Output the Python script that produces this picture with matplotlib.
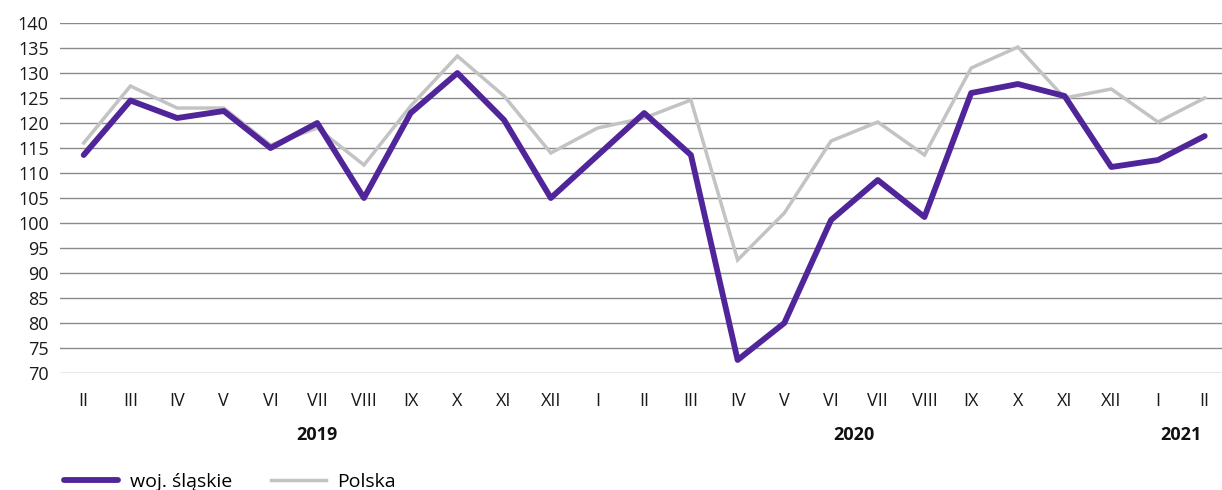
import matplotlib
matplotlib.use("Agg")
import matplotlib.pyplot as plt
from matplotlib.lines import Line2D

plt.rcParams['font.family'] = ['Open Sans', 'DejaVu Sans']

months = ["II", "III", "IV", "V", "VI", "VII", "VIII", "IX", "X", "XI", "XII",
          "I", "II", "III", "IV", "V", "VI", "VII", "VIII", "IX", "X", "XI", "XII",
          "I", "II"]
slaskie = [113.6, 124.5, 121.0, 122.4, 115.0, 120.0, 105.0, 122.0, 130.0, 120.6, 105.0,
           113.5, 122.0, 113.6, 72.6, 80.0, 100.6, 108.6, 101.2, 126.0, 127.8, 125.4, 111.2,
           112.6, 117.4]
polska = [116.0, 127.4, 123.0, 123.0, 115.6, 119.0, 111.6, 123.4, 133.4, 125.4, 114.0,
          119.0, 121.0, 124.6, 92.6, 102.0, 116.4, 120.2, 113.6, 131.0, 135.2, 125.0, 126.8,
          120.2, 125.0]
years = ["2019", "2020", "2021"]
year_spans = [(0, 10), (11, 22), (23, 24)]
yticks = list(range(70, 141, 5))

purple = "#51259a"
grey = "#c3c3c3"

fig = plt.figure(figsize=(12.22, 4.9), dpi=100)
ax = fig.add_axes([0.049, 0.2388, 0.951, 0.7142])
x = list(range(len(months)))
ax.plot(x, polska, color=grey, lw=2.5, solid_joinstyle='miter', zorder=3)
ax.plot(x, slaskie, color=purple, lw=4.2, solid_capstyle='round', zorder=4)

ax.set_ylim(70, 140)
ax.set_yticks(yticks)
ax.set_xlim(-0.51, 24.37)
ax.set_xticks(x)
ax.set_xticklabels(months)
ax.grid(axis='y', color='#8a8a8a', lw=1.0)
ax.set_axisbelow(True)
for s in ax.spines.values():
    s.set_visible(False)
ax.tick_params(axis='both', length=0, labelsize=13, colors='#1a1a1a')
ax.tick_params(axis='x', pad=14)
ax.tick_params(axis='y', pad=8)

for yr, (a, b) in zip(years, year_spans):
    ax.text((a + b) / 2, -0.177, yr, transform=ax.get_xaxis_transform(),
            ha='center', va='center', fontsize=13, fontweight='bold', color='#111111')

handles = [Line2D([], [], color=purple, lw=4.2, solid_capstyle='round'),
           Line2D([], [], color=grey, lw=2.5)]
fig.legend(handles, ["woj. śląskie", "Polska"], loc='lower left',
           bbox_to_anchor=(0.038, -0.037), ncol=2, frameon=False, fontsize=14,
           handlelength=2.8, columnspacing=2.0, handletextpad=0.6)

fig.savefig("out.png", dpi=100)
